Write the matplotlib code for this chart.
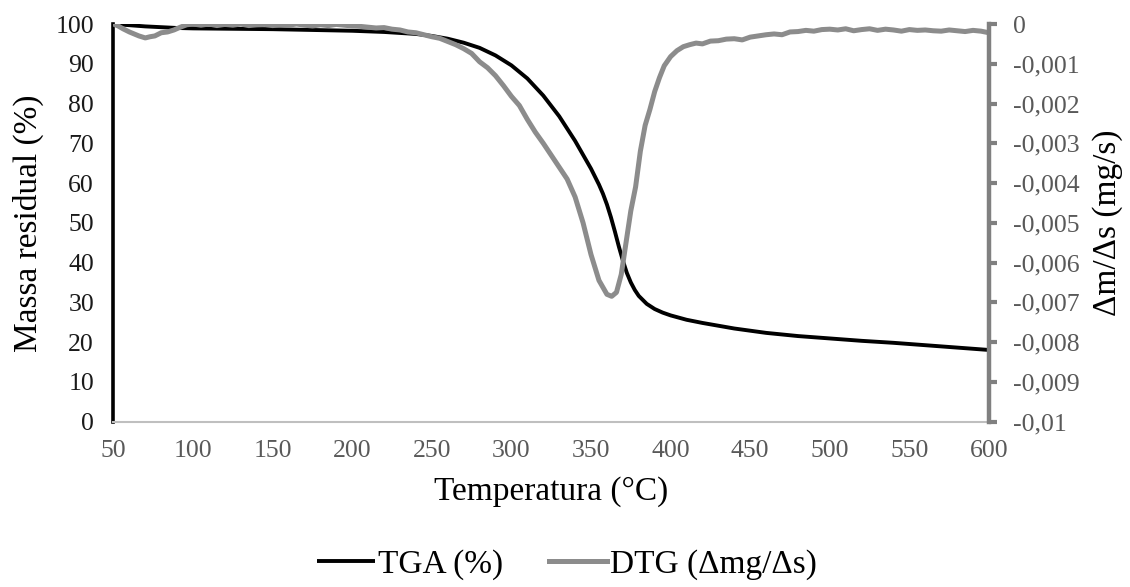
import matplotlib
matplotlib.use('Agg')
from matplotlib import pyplot as plt
import numpy as np

plt.rcParams['font.family'] = ['Liberation Serif', 'DejaVu Serif']

# TGA curve (temperature in °C, residual mass in %)
tga_temp = [50, 60, 70, 80, 90, 100, 125, 150, 175, 200, 220, 240, 250, 260, 270, 280, 290,
            300, 310, 320, 330, 340, 350, 355, 357.5, 360, 362.5, 365, 367.5, 370, 372.5, 375,
            377.5, 380, 385, 390, 395, 400, 410, 420, 440, 460, 480, 500, 520, 540, 560, 580, 600]
tga_mass = [100.0, 99.7, 99.4, 99.2, 99.0, 98.9, 98.8, 98.7, 98.5, 98.3, 98.0, 97.5, 97.0, 96.3,
            95.3, 94.0, 92.1, 89.6, 86.3, 82.0, 76.8, 70.6, 63.6, 59.6, 57.3, 54.6, 51.4, 47.8,
            44.0, 40.5, 37.4, 35.0, 33.1, 31.6, 29.6, 28.3, 27.4, 26.7, 25.6, 24.8, 23.4, 22.3,
            21.5, 20.9, 20.3, 19.8, 19.2, 18.6, 18.0]

# DTG curve (temperature in °C, mass loss rate in 1e-3 mg/s)
dtg_temp = [50, 53, 56, 60, 63, 66, 70, 73, 76, 80, 84, 88, 92, 96, 100, 105, 110, 115, 120,
            125, 130, 135, 140, 145, 150, 155, 160, 165, 170, 175, 180, 185, 190, 195, 200, 205,
            210, 215, 220, 225, 230, 235, 240, 245, 250, 255, 260, 265, 270, 275, 280, 285, 290,
            295, 300, 305, 310, 315, 320, 325, 330, 335, 340, 345, 350, 355, 360, 363, 366, 369,
            372, 375, 378, 381, 384, 387, 390, 393, 396, 400, 404, 408, 412, 416, 420, 425, 430,
            435, 440, 445, 450, 455, 460, 465, 470, 475, 480, 485, 490, 495, 500, 505, 510, 515,
            520, 525, 530, 535, 540, 545, 550, 555, 560, 565, 570, 575, 580, 585, 590, 595, 600]
dtg_rate = [0.0, -0.05, -0.12, -0.2, -0.25, -0.3, -0.35, -0.32, -0.3, -0.22, -0.2, -0.15, -0.08,
            -0.02, 0.0, -0.03, 0.0, -0.04, -0.01, -0.03, 0.0, -0.04, -0.02, -0.01, -0.04, -0.02,
            -0.03, 0.0, -0.03, -0.05, -0.02, -0.04, -0.01, -0.03, -0.05, -0.06, -0.08, -0.1, -0.09,
            -0.13, -0.15, -0.2, -0.22, -0.27, -0.32, -0.36, -0.44, -0.52, -0.62, -0.74, -0.95,
            -1.1, -1.3, -1.55, -1.82, -2.05, -2.4, -2.72, -3.0, -3.3, -3.6, -3.9, -4.35, -5.0,
            -5.8, -6.45, -6.8, -6.85, -6.75, -6.3, -5.5, -4.7, -4.1, -3.2, -2.55, -2.15, -1.7,
            -1.35, -1.05, -0.82, -0.67, -0.57, -0.52, -0.48, -0.5, -0.43, -0.42, -0.38, -0.37,
            -0.4, -0.33, -0.3, -0.27, -0.25, -0.27, -0.2, -0.19, -0.16, -0.18, -0.14, -0.13,
            -0.15, -0.12, -0.17, -0.14, -0.12, -0.16, -0.13, -0.15, -0.18, -0.14, -0.16, -0.15,
            -0.17, -0.18, -0.15, -0.17, -0.19, -0.16, -0.18, -0.22]

x_ticks = [50, 100, 150, 200, 250, 300, 350, 400, 450, 500, 550, 600]
left_ticks = [0, 10, 20, 30, 40, 50, 60, 70, 80, 90, 100]
right_ticks = [0, -0.001, -0.002, -0.003, -0.004, -0.005, -0.006, -0.007, -0.008, -0.009, -0.01]
right_tick_labels = ['0', '-0,001', '-0,002', '-0,003', '-0,004', '-0,005', '-0,006', '-0,007',
                     '-0,008', '-0,009', '-0,01']

fig = plt.figure(figsize=(11.3, 5.87), dpi=100)
ax = fig.add_axes([0.1004, 0.2819, 0.7748, 0.6772])
ax2 = ax.twinx()

tga_line, = ax.plot(tga_temp, tga_mass, color='black', lw=2.8, solid_capstyle='butt')
dtg_line, = ax2.plot(dtg_temp, np.array(dtg_rate) / 1000, color='#8c8c8c', lw=3.6)

ax.set_xlim(50, 600)
ax.set_ylim(0, 100)
ax2.set_ylim(-0.01, 0)

ax.set_xticks(x_ticks)
ax.set_yticks(left_ticks)
ax2.set_yticks(right_ticks)
ax2.set_yticklabels(right_tick_labels)

ax.tick_params(axis='x', length=0, pad=13, labelsize=18.5, labelcolor='#595959')
ax.tick_params(axis='y', length=0, pad=14, labelsize=18.5, labelcolor='#1a1a1a')
ax2.tick_params(axis='y', length=6, width=3, color='#808080', pad=11, labelsize=18.5,
                labelcolor='#595959', direction='out')

for a in (ax, ax2):
    for side in ('top', 'left', 'right', 'bottom'):
        a.spines[side].set_visible(False)
ax.spines['left'].set_visible(True)
ax.spines['left'].set_color('black')
ax.spines['left'].set_linewidth(2.6)
ax.spines['bottom'].set_visible(True)
ax.spines['bottom'].set_color('#bfbfbf')
ax.spines['bottom'].set_linewidth(1.5)
ax2.spines['right'].set_visible(True)
ax2.spines['right'].set_color('#808080')
ax2.spines['right'].set_linewidth(3.2)

fig.text(0.5 * (0.1004 + 0.8752), 1 - 492 / 587, 'Temperatura (°C)', ha='center', va='center',
         fontsize=24)
fig.text(28 / 1130, 0.2819 + 0.6772 / 2, 'Massa residual (%)', ha='center', va='center',
         rotation=90, fontsize=24)
fig.text(1108 / 1130, 0.2819 + 0.6772 / 2, 'Δm/Δs (mg/s)', ha='center', va='center',
         rotation=90, fontsize=24)

fig.legend([tga_line, dtg_line], ['TGA (%)', 'DTG (Δmg/Δs)'], loc='center',
           bbox_to_anchor=(567 / 1130, 1 - 565 / 587), ncol=2, frameon=False, fontsize=24,
           handlelength=1.75, handletextpad=0.1, columnspacing=1.35, borderpad=0)

fig.savefig('out.png', dpi=100)
